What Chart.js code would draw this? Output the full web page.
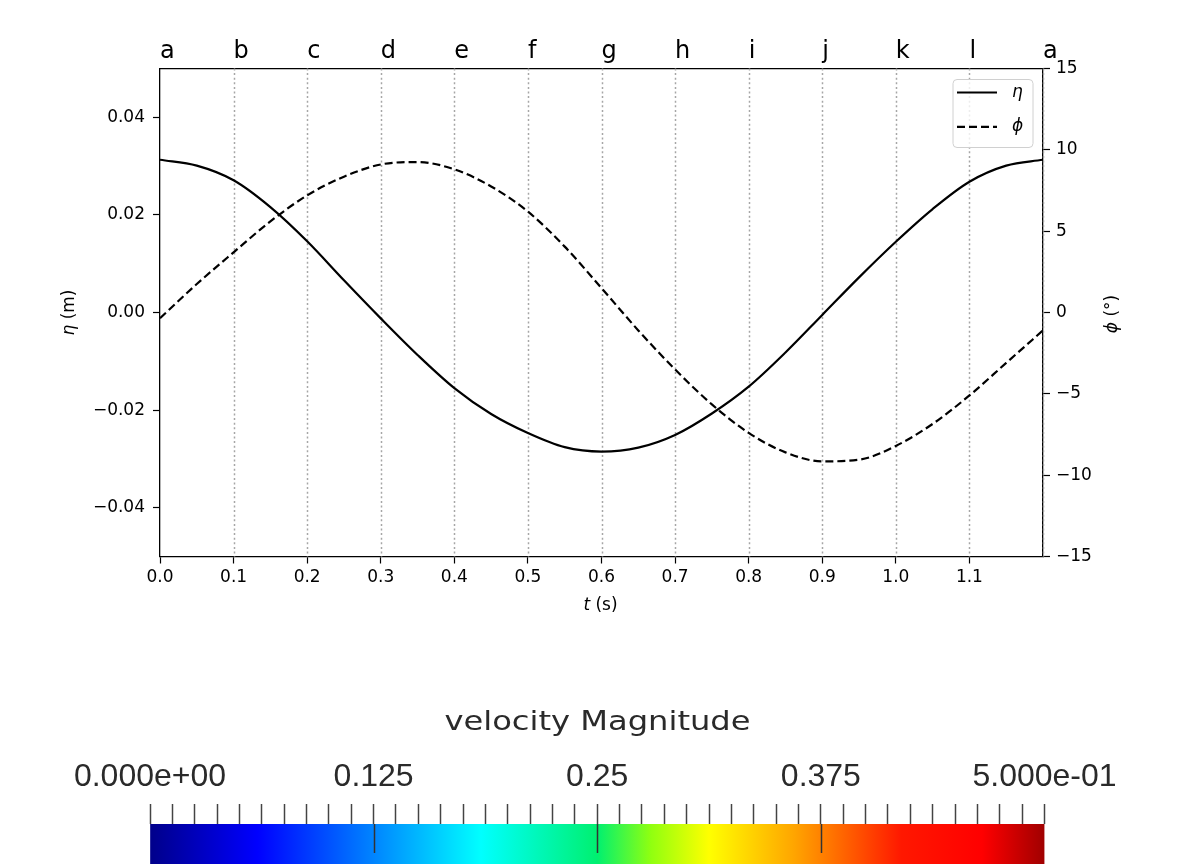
<!DOCTYPE html>
<html><head><meta charset="utf-8">
<script src="https://cdn.jsdelivr.net/npm/chart.js@4"></script>
<style>
html,body{margin:0;padding:0;background:#fff;width:1179px;height:864px;overflow:hidden}
canvas{position:absolute;left:0}
#c1{top:0}
#c2{top:640px}
</style></head><body>
<canvas id="c1" width="1179" height="640"></canvas>
<canvas id="c2" width="1179" height="224"></canvas>
<script>
// ---- data ----
const timeS  = [0.00,0.05,0.10,0.15,0.20,0.25,0.30,0.35,0.40,0.45,0.50,0.55,0.60,0.65,0.70,0.75,0.80,0.85,0.90,0.95,1.00,1.05,1.10,1.15,1.20];
const etaM   = [0.0313,0.0301,0.0271,0.0216,0.0146,0.0066,-0.0012,-0.0087,-0.0155,-0.0208,-0.0247,-0.0276,-0.0285,-0.0277,-0.0251,-0.0207,-0.0152,-0.0082,-0.0005,0.0072,0.0145,0.0212,0.0268,0.0301,0.0313];
const phiDeg = [-0.35,1.75,3.70,5.60,7.20,8.35,9.10,9.25,8.80,7.75,6.20,4.05,1.50,-1.10,-3.50,-5.65,-7.40,-8.60,-9.15,-9.05,-8.20,-6.85,-5.10,-3.10,-1.10];
const phaseTimes  = [0,0.1,0.2,0.3,0.4,0.5,0.6,0.7,0.8,0.9,1.0,1.1,1.2];
const phaseLabels = ['a','b','c','d','e','f','g','h','i','j','k','l','a'];
const gridTimes   = [0.1,0.2,0.3,0.4,0.5,0.6,0.7,0.8,0.9,1.0,1.1,1.2];
const xTickValues = [0,0.1,0.2,0.3,0.4,0.5,0.6,0.7,0.8,0.9,1.0,1.1];
const etaTicks = [-0.04,-0.02,0,0.02,0.04];
const phiTicks = [-15,-10,-5,0,5,10,15];
const seriesNames = ['η','ϕ'];
// colour bar
const cbMajorValues = [0,0.125,0.25,0.375,0.5];
const cbMajorLabels = ['0.000e+00','0.125','0.25','0.375','5.000e-01'];
const cbMinorCount = 40;
const cbTitle = 'velocity Magnitude';
const jetStops = [[0,'#00008a'],[0.12,'#0000ff'],[0.37,'#00ffff'],[0.5,'#00f070'],[0.56,'#90ff10'],[0.625,'#ffff00'],[0.72,'#ffa500'],[0.84,'#ff1800'],[0.93,'#ff0000'],[1,'#a00000']];

const minusFmt = (v, d) => (v < 0 ? '\u2212' : '') + Math.abs(v).toFixed(d);
const FONT = 'DejaVu Sans';

const gridPlugin = {
  id: 'phaseGrid',
  beforeDatasetsDraw(chart) {
    const {ctx, chartArea} = chart; const xs = chart.scales.x;
    ctx.save();
    ctx.strokeStyle = '#a6a6a6'; ctx.lineWidth = 1.5; ctx.setLineDash([2, 2.6]);
    gridTimes.forEach(t => {
      const x = Math.round(xs.getPixelForValue(t)) + 0.5;
      ctx.beginPath(); ctx.moveTo(x, chartArea.top); ctx.lineTo(x, chartArea.bottom); ctx.stroke();
    });
    ctx.restore();
  }
};

function mixedText(ctx, parts, cx, cy) {
  let w = 0;
  parts.forEach(p => { ctx.font = p[1]; w += ctx.measureText(p[0]).width; });
  let x = cx - w / 2;
  parts.forEach(p => { ctx.font = p[1]; ctx.fillText(p[0], x, cy); x += ctx.measureText(p[0]).width; });
}

const decoPlugin = {
  id: 'deco',
  afterDraw(chart) {
    const {ctx} = chart;
    ctx.save();
    ctx.fillStyle = '#000'; ctx.textBaseline = 'middle'; ctx.textAlign = 'left';
    const it = 'italic 17px ' + FONT, rg = '17px ' + FONT;
    // axis titles
    ctx.save(); ctx.translate(70, 312.5); ctx.rotate(-Math.PI / 2);
    mixedText(ctx, [['η', it], [' (m)', rg]], 0, 0); ctx.restore();
    ctx.save(); ctx.translate(1113, 314); ctx.rotate(-Math.PI / 2);
    mixedText(ctx, [['ϕ', it], [' (°)', rg]], 0, 0); ctx.restore();
    mixedText(ctx, [['t', it], [' (s)', rg]], 600.5, 606);
    // legend
    const bx = 953, by = 79.5, bw = 80, bh = 68, r = 4;
    ctx.beginPath();
    ctx.moveTo(bx + r, by); ctx.lineTo(bx + bw - r, by); ctx.quadraticCurveTo(bx + bw, by, bx + bw, by + r);
    ctx.lineTo(bx + bw, by + bh - r); ctx.quadraticCurveTo(bx + bw, by + bh, bx + bw - r, by + bh);
    ctx.lineTo(bx + r, by + bh); ctx.quadraticCurveTo(bx, by + bh, bx, by + bh - r);
    ctx.lineTo(bx, by + r); ctx.quadraticCurveTo(bx, by, bx + r, by); ctx.closePath();
    ctx.fillStyle = 'rgba(255,255,255,0.8)'; ctx.fill();
    ctx.strokeStyle = '#d0d0d0'; ctx.lineWidth = 1; ctx.stroke();
    chart.data.datasets.forEach((ds, i) => {
      const y = 92.5 + i * 34.3;
      ctx.save();
      ctx.strokeStyle = ds.borderColor; ctx.lineWidth = ds.borderWidth; ctx.setLineDash(ds.borderDash || []);
      ctx.beginPath(); ctx.moveTo(957, y); ctx.lineTo(997, y); ctx.stroke();
      ctx.restore();
      ctx.fillStyle = '#000'; ctx.font = it; ctx.fillText(ds.label, 1012, y);
    });
    ctx.restore();
  }
};

const tickFont = {family: FONT, size: 17};
new Chart(document.getElementById('c1'), {
  type: 'line',
  data: {
    datasets: [
      {label: seriesNames[0], data: timeS.map((t, i) => ({x: t, y: etaM[i]})), xAxisID: 'x', yAxisID: 'y',
       borderColor: '#000', borderWidth: 2.2, pointRadius: 0, cubicInterpolationMode: 'monotone', fill: false},
      {label: seriesNames[1], data: timeS.map((t, i) => ({x: t, y: phiDeg[i]})), xAxisID: 'x', yAxisID: 'y2',
       borderColor: '#000', borderWidth: 2.2, borderDash: [8, 4], pointRadius: 0, cubicInterpolationMode: 'monotone', fill: false}
    ]
  },
  options: {
    responsive: false, animation: false,
    layout: {padding: 0},
    plugins: {legend: {display: false}, tooltip: {enabled: false}},
    scales: {
      x: {type: 'linear', position: 'bottom', min: 0, max: 1.2,
          afterBuildTicks: s => { s.ticks = xTickValues.map(v => ({value: v})); },
          afterFit: s => { s.height = 83.5; },
          ticks: {callback: v => v.toFixed(1), font: tickFont, color: '#000', padding: 4, autoSkip: false, maxRotation: 0},
          grid: {drawOnChartArea: false, tickLength: 7, tickColor: '#000', tickWidth: 1.2},
          border: {color: '#000', width: 1.3}},
      x2: {type: 'linear', position: 'top', min: 0, max: 1.2,
          afterBuildTicks: s => { s.ticks = phaseTimes.map(v => ({value: v})); },
          afterFit: s => { s.height = 68.5; },
          ticks: {callback: (v, i) => phaseLabels[i], font: {family: FONT, size: 24}, color: '#000', padding: 2.4, align: 'start', autoSkip: false, maxRotation: 0},
          grid: {display: false, drawTicks: false},
          border: {display: true, color: '#000', width: 1.3}},
      y: {type: 'linear', position: 'left', min: -0.05, max: 0.05,
          afterBuildTicks: s => { s.ticks = etaTicks.map(v => ({value: v})); },
          afterFit: s => { s.width = 160; },
          ticks: {callback: v => minusFmt(v, 2), font: tickFont, color: '#000', padding: 8},
          grid: {drawOnChartArea: false, tickLength: 7, tickColor: '#000', tickWidth: 1.2},
          border: {color: '#000', width: 1.3}},
      y2: {type: 'linear', position: 'right', min: -15, max: 15,
          afterBuildTicks: s => { s.ticks = phiTicks.map(v => ({value: v})); },
          afterFit: s => { s.width = 136; },
          ticks: {callback: v => minusFmt(v, 0), font: tickFont, color: '#000', padding: 6},
          grid: {drawOnChartArea: false, tickLength: 7, tickColor: '#000', tickWidth: 1.2},
          border: {color: '#000', width: 1.3}}
    }
  },
  plugins: [gridPlugin, decoPlugin]
});

// ---- colour bar ----
function jetGradient(chart) {
  const {ctx, chartArea} = chart;
  if (!chartArea) return '#888';
  const g = ctx.createLinearGradient(chartArea.left, 0, chartArea.right, 0);
  jetStops.forEach(s => g.addColorStop(s[0], s[1]));
  return g;
}
const cbPlugin = {
  id: 'cbDeco',
  afterDatasetsDraw(chart) {
    const {ctx, chartArea} = chart; const xs = chart.scales.x;
    ctx.save();
    ctx.strokeStyle = '#333'; ctx.lineWidth = 1.5;
    cbMajorValues.slice(1, -1).forEach(v => {
      const x = Math.round(xs.getPixelForValue(v)) + 0.5;
      ctx.beginPath(); ctx.moveTo(x, chartArea.top); ctx.lineTo(x, chartArea.top + 29); ctx.stroke();
    });
    ctx.restore();
  },
  afterDraw(chart) {
    const {ctx} = chart;
    ctx.save();
    ctx.fillStyle = '#2a2a2a'; ctx.font = '27px ' + FONT; ctx.textBaseline = 'alphabetic'; ctx.textAlign = 'center';
    ctx.translate(597.5, 90); ctx.scale(1.19, 1);
    ctx.fillText(cbTitle, 0, 0);
    ctx.restore();
  }
};
const cbMax = cbMajorValues[cbMajorValues.length - 1];
new Chart(document.getElementById('c2'), {
  type: 'bar',
  data: {labels: ['U'], datasets: [{data: [[cbMajorValues[0], cbMax]], backgroundColor: c => jetGradient(c.chart),
         borderWidth: 0, barPercentage: 1, categoryPercentage: 1}]},
  options: {
    indexAxis: 'y', responsive: false, animation: false,
    layout: {padding: {left: 150, right: 134.5, top: 0, bottom: 0}},
    plugins: {legend: {display: false}, tooltip: {enabled: false}},
    scales: {
      x: {type: 'linear', position: 'top', min: 0, max: cbMax,
          afterBuildTicks: s => { const t = []; for (let i = 0; i <= cbMinorCount; i++) t.push({value: cbMax * i / cbMinorCount}); s.ticks = t; },
          afterFit: s => { s.height = 184; },
          ticks: {callback: v => { const j = cbMajorValues.findIndex(m => Math.abs(m - v) < 1e-9); return j >= 0 ? cbMajorLabels[j] : ''; },
                  font: {family: 'Liberation Sans', size: 32}, color: '#2a2a2a', padding: 8, autoSkip: false, maxRotation: 0},
          grid: {drawOnChartArea: false, tickLength: 20, tickColor: '#444', tickWidth: 1.5},
          border: {display: false}},
      y: {display: false}
    }
  },
  plugins: [cbPlugin]
});
</script>
</body></html>
